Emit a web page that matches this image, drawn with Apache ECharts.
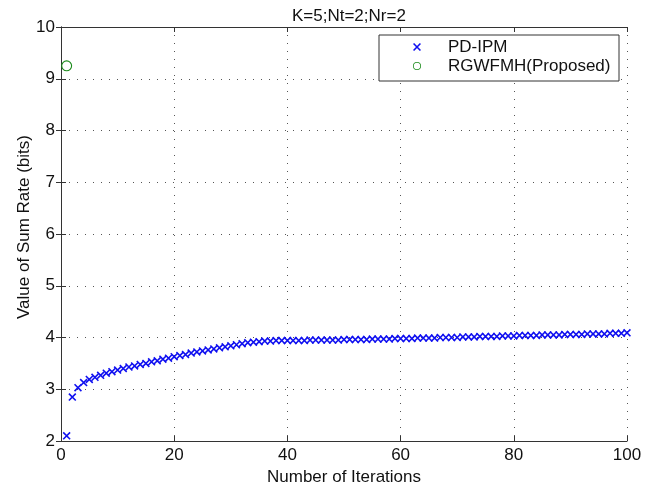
<!DOCTYPE html>
<html><head><meta charset="utf-8">
<script src="https://cdn.jsdelivr.net/npm/echarts@6/dist/echarts.min.js"></script>
<style>html,body{margin:0;padding:0;background:#fff}#c{width:668px;height:488px}</style>
</head><body><div id="c"></div>
<script>
const titleText = 'K=5;Nt=2;Nr=2';
const xAxisName = 'Number of Iterations';
const yAxisName = 'Value of Sum Rate (bits)';
const seriesNames = ['PD-IPM', 'RGWFMH(Proposed)'];
const xTicks = [0, 20, 40, 60, 80, 100];
const yTicks = [2, 3, 4, 5, 6, 7, 8, 9, 10];
const iterations = [1,2,3,4,5,6,7,8,9,10,11,12,13,14,15,16,17,18,19,20,
  21,22,23,24,25,26,27,28,29,30,31,32,33,34,35,36,37,38,39,40,
  41,42,43,44,45,46,47,48,49,50,51,52,53,54,55,56,57,58,59,60,
  61,62,63,64,65,66,67,68,69,70,71,72,73,74,75,76,77,78,79,80,
  81,82,83,84,85,86,87,88,89,90,91,92,93,94,95,96,97,98,99,100];
const pdIpm = [2.10,2.85,3.03,3.13,3.19,3.23,3.27,3.31,3.34,3.37,
  3.40,3.43,3.45,3.48,3.50,3.53,3.55,3.58,3.60,3.63,
  3.65,3.67,3.70,3.72,3.74,3.76,3.78,3.80,3.82,3.84,
  3.86,3.88,3.90,3.91,3.92,3.93,3.93,3.94,3.94,3.94,
  3.94,3.94,3.94,3.95,3.95,3.95,3.95,3.95,3.95,3.96,
  3.96,3.96,3.96,3.96,3.97,3.97,3.97,3.97,3.98,3.98,
  3.98,3.98,3.99,3.99,3.99,3.99,4.00,4.00,4.00,4.00,
  4.01,4.01,4.01,4.02,4.02,4.02,4.02,4.03,4.03,4.03,
  4.04,4.04,4.04,4.04,4.05,4.05,4.05,4.05,4.06,4.06,
  4.06,4.06,4.07,4.07,4.07,4.07,4.08,4.08,4.08,4.09];
const proposedIter = [1];
const proposedVal = [9.25];

const FONT = 'Liberation Sans, Arial, Helvetica, sans-serif';
const FS = 17;
const xMark = 'path://M0,1.4L1.4,0L10,8.6L8.6,10Z M8.6,0L10,1.4L1.4,10L0,8.6Z';
const ring = 'path://M0,5A5,5,0,1,1,10,5A5,5,0,1,1,0,5Z M1,5A4,4,0,1,0,9,5A4,4,0,1,0,1,5Z';

const chart = echarts.init(document.getElementById('c'), null, {renderer: 'canvas'});
const split = {show: true, lineStyle: {color: '#555', width: 1, type: [1, 7]}};
const axLine = {show: true, lineStyle: {color: '#333', width: 1}};
const tick = {show: true, inside: true, length: 5, lineStyle: {color: '#333'}};
chart.setOption({
  animation: false,
  backgroundColor: '#fff',
  title: {text: titleText, left: 287, top: 3, textStyle: {fontFamily: FONT, fontSize: FS, fontWeight: 'normal', color: '#111'}},
  grid: {left: 61, right: 41, top: 27, bottom: 47, containLabel: false, outerBoundsMode: 'none'},
  xAxis: [
    {type: 'value', min: xTicks[0], max: xTicks[xTicks.length - 1], interval: 20, position: 'bottom',
     name: xAxisName, nameLocation: 'middle', nameGap: 28, nameMoveOverlap: false,
     nameTextStyle: {fontFamily: FONT, fontSize: FS, color: '#111'},
     axisLine: axLine, axisTick: tick, splitLine: split,
     axisLabel: {fontFamily: FONT, fontSize: FS, color: '#111', margin: 6}},
    {type: 'value', min: xTicks[0], max: xTicks[xTicks.length - 1], interval: 20, position: 'top',
     axisLine: axLine, axisTick: tick, splitLine: {show: false}, axisLabel: {show: false}}
  ],
  yAxis: [
    {type: 'value', min: yTicks[0], max: yTicks[yTicks.length - 1], interval: 1, position: 'left',
     name: yAxisName, nameLocation: 'middle', nameGap: 28, nameMoveOverlap: false,
     nameTextStyle: {fontFamily: FONT, fontSize: FS, color: '#111', padding: [0, 0, 0, 14]},
     axisLine: axLine, axisTick: tick, splitLine: split,
     axisLabel: {fontFamily: FONT, fontSize: FS, color: '#111', margin: 6}},
    {type: 'value', min: yTicks[0], max: yTicks[yTicks.length - 1], interval: 1, position: 'right',
     axisLine: axLine, axisTick: tick, splitLine: {show: false}, axisLabel: {show: false}}
  ],
  legend: {
    orient: 'vertical', left: 413, top: 38, padding: 0, itemGap: 1,
    itemWidth: 52, itemHeight: 8, symbolKeepAspect: true,
    textStyle: {fontFamily: FONT, fontSize: FS, color: '#111', lineHeight: 18},
    data: [
      {name: seriesNames[0], icon: xMark, itemStyle: {color: '#1010f0'}},
      {name: seriesNames[1], icon: ring, itemStyle: {color: '#1a8a1a'}}
    ],
    z: 5
  },
  graphic: [{type: 'rect', shape: {x: 379, y: 35, width: 240, height: 46}, z: 3,
    style: {fill: '#fff', stroke: '#333', lineWidth: 1}}],
  series: [
    {name: seriesNames[0], type: 'scatter', xAxisIndex: 0, yAxisIndex: 0,
     symbol: xMark, symbolSize: 8, itemStyle: {color: '#1010f0', opacity: 1},
     data: iterations.map((x, i) => [x, pdIpm[i]])},
    {name: seriesNames[1], type: 'scatter', xAxisIndex: 0, yAxisIndex: 0,
     symbol: ring, symbolSize: 11, itemStyle: {color: '#1a8a1a', opacity: 1},
     data: proposedIter.map((x, i) => [x, proposedVal[i]])}
  ]
});
</script></body></html>
